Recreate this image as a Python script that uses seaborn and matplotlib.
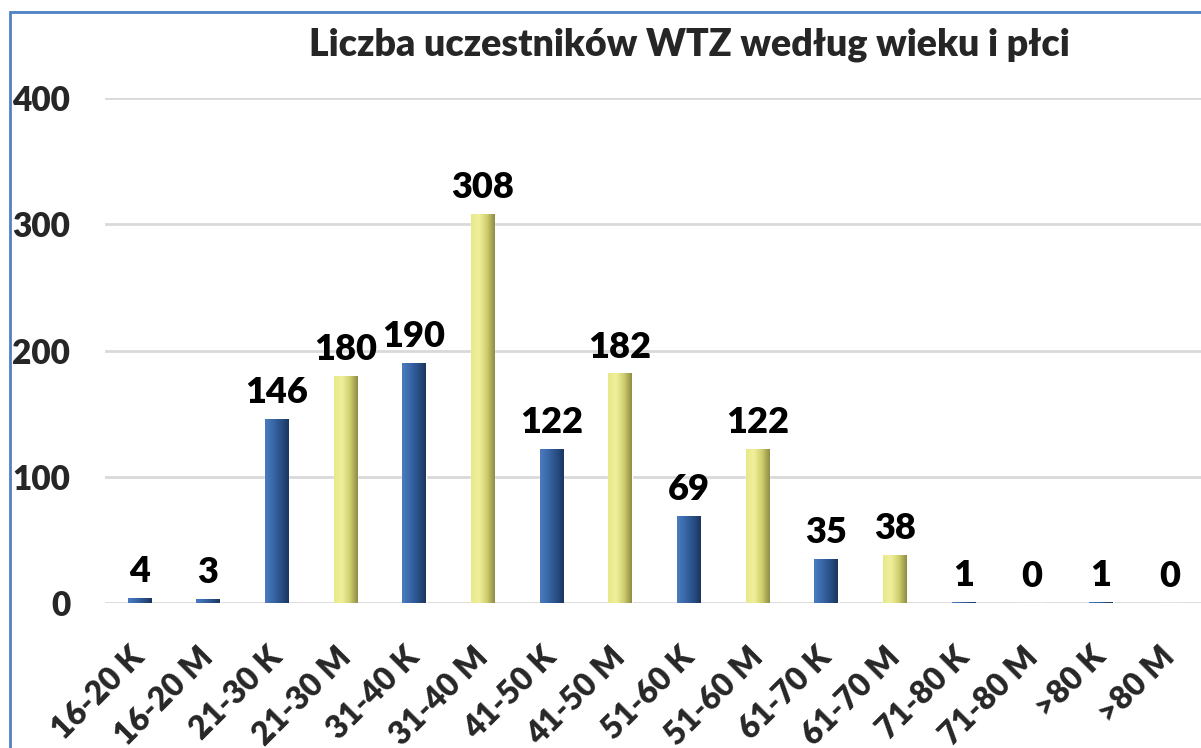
import numpy as np
import pandas as pd
import seaborn as sns
import matplotlib.pyplot as plt
import matplotlib.transforms as mtransforms
from matplotlib.patches import Rectangle
from matplotlib.colors import LinearSegmentedColormap

kategorie = ['16-20 K', '16-20 M', '21-30 K', '21-30 M', '31-40 K', '31-40 M',
             '41-50 K', '41-50 M', '51-60 K', '51-60 M', '61-70 K', '61-70 M',
             '71-80 K', '71-80 M', '>80 K', '>80 M']
liczba = [4, 3, 146, 180, 190, 308, 122, 182, 69, 122, 35, 38, 1, 0, 1, 0]
plec = ['K', 'K', 'K', 'M', 'K', 'M', 'K', 'M', 'K', 'M', 'K', 'M', 'K', 'M', 'K', 'M']

kolory = {'K': '#33609E', 'M': '#D9D878'}
gradienty = {
    'K': ['#4A7CC0', '#3A68A8', '#2A5088', '#1C365E'],
    'M': ['#E8E88A', '#F0F09C', '#CFCF6E', '#8E8C45'],
}

data = pd.DataFrame({'kategoria': kategorie, 'liczba': liczba, 'plec': plec})

sns.set_theme(style='white')
plt.rcParams['font.family'] = ['Lato', 'DejaVu Sans']
waga = 'heavy'

fig = plt.figure(figsize=(12.01, 7.48), dpi=100)
ax = fig.add_axes([0.0874, 0.1939, 0.915, 0.675])

sns.barplot(data=data, x='kategoria', y='liczba', hue='plec', palette=kolory,
            dodge=False, legend=False, width=0.34, saturation=1, ax=ax, zorder=3)

# cylinder-like shading on each bar
for bar in ax.patches:
    x0, y0 = bar.get_x(), bar.get_y()
    w, h = bar.get_width(), bar.get_height()
    if h <= 0:
        continue
    p = plec[int(round(x0 + w / 2))]
    cmap = LinearSegmentedColormap.from_list('g' + p, gradienty[p])
    grad = np.linspace(0, 1, 64).reshape(1, -1)
    im = ax.imshow(grad, cmap=cmap, aspect='auto', extent=[x0, x0 + w, y0, y0 + h],
                   zorder=4, interpolation='bicubic')
    im.set_clip_path(bar)

for c in ax.containers:
    ax.bar_label(c, fmt='%d', padding=7, fontsize=26, fontweight=waga,
                 color='black', zorder=5)

ax.set_xlim(-0.5, 15.5)
ax.set_ylim(0, 400)
ax.set_yticks([0, 100, 200, 300, 400])
ax.yaxis.grid(True, color='#D9D9D9', linewidth=2)
ax.set_axisbelow(True)
for s in ax.spines.values():
    s.set_visible(False)

ax.tick_params(axis='y', length=0, pad=25, labelsize=24)
ax.tick_params(axis='x', length=0, pad=28, labelsize=23)
for t in ax.get_yticklabels():
    t.set_fontweight(waga)
ax.set_xticks(range(len(kategorie)))
ax.set_xticklabels(kategorie, rotation=45, ha='right', rotation_mode='anchor',
                   fontweight=waga)
przes = mtransforms.ScaledTranslation(-7 / 72, 0, fig.dpi_scale_trans)
for t in ax.get_xticklabels():
    t.set_transform(t.get_transform() + przes)
ax.set_xlabel('')
ax.set_ylabel('')

fig.text(0.574, 0.94, 'Liczba uczestników WTZ według wieku i płci', ha='center',
         va='center', fontsize=27, fontweight=waga)

fig.add_artist(Rectangle((0.0083, -0.2), 1.2, 1.184, transform=fig.transFigure,
                         fill=False, edgecolor='#4F81C4', linewidth=2))

fig.savefig('out.png', dpi=100)
